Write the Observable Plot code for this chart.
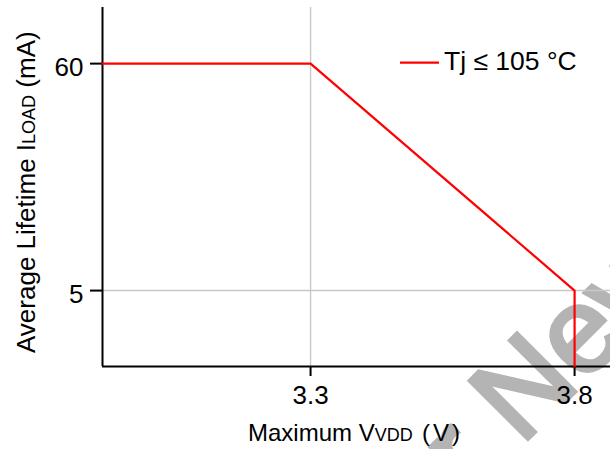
<!DOCTYPE html>
<html><head><meta charset="utf-8">
<script src="https://cdn.jsdelivr.net/npm/d3@7"></script>
<script src="https://cdn.jsdelivr.net/npm/@observablehq/plot@0.6"></script>
<style>html,body{margin:0;padding:0;background:#fff;overflow:hidden} svg{display:block}</style>
</head><body><div id="chart"></div>
<script>
// Data
const vdd = [2.906, 3.3, 3.8, 3.8];
const iload = [60, 60, 5, -13.4];
const xTicks = [3.3, 3.8];
const yTicks = [5, 60];
const xDomain = [2.906, 3.868];
const yDomain = [-13.4, 73.6];
const seriesName = "Tj ≤ 105 °C";
const watermarkA = "Not Recommended for";
const watermarkB = "New Designs";

const data = vdd.map((v, i) => ({vdd: v, iload: iload[i]}));
const font = "'Liberation Sans', Arial, Helvetica, sans-serif";

const plot = Plot.plot({
  width: 610, height: 449,
  marginTop: 7, marginBottom: 83, marginLeft: 102, marginRight: 0,
  style: {fontFamily: font, background: "#fff", overflow: "hidden", color: "#000"},
  x: {domain: xDomain},
  y: {domain: yDomain},
  marks: [
    Plot.ruleX([xTicks[0]], {stroke: "#c8c8c8", strokeWidth: 1.4}),
    Plot.ruleY([yTicks[0]], {stroke: "#c8c8c8", strokeWidth: 1.4}),
    Plot.axisX({ticks: xTicks, tickSize: 10, tickPadding: 9, fontSize: 26, label: null,
      tickFormat: d => d.toFixed(1), strokeWidth: 2}),
    Plot.axisY({ticks: yTicks, tickSize: 12, tickFormat: () => "", label: null, strokeWidth: 2}),
    Plot.axisY({ticks: yTicks, tickSize: 0, tickPadding: 19, dy: 4, fontSize: 26, label: null,
      tickFormat: d => String(d)}),
    Plot.ruleX([xDomain[0]], {stroke: "#000", strokeWidth: 2}),
    Plot.ruleY([yDomain[0]], {stroke: "#000", strokeWidth: 2}),
    Plot.line(data, {x: "vdd", y: "iload", stroke: "#ff0000", strokeWidth: 2.2, strokeLinejoin: "miter"})
  ]
});
document.getElementById("chart").appendChild(plot);

const svg = d3.select(plot);

// Watermark (underneath everything)
const wm = svg.insert("g", ":first-child")
  .attr("transform", "translate(521,446) rotate(-45)")
  .attr("font-family", font).attr("font-size", 120).attr("font-weight", "normal")
  .attr("fill", "#b4b4b4").attr("stroke", "#b4b4b4").attr("stroke-width", 4);
wm.append("text").attr("x", -33).attr("text-anchor", "end").text(watermarkA);
wm.append("text").attr("x", 0).attr("text-anchor", "start").text(watermarkB);
svg.insert("rect", ":first-child").attr("width", 610).attr("height", 449).attr("fill", "#fff");

// X axis label with subscript
const xl = svg.append("text")
  .attr("x", 248).attr("y", 441).attr("text-anchor", "start")
  .attr("font-family", font).attr("font-size", 24).attr("fill", "#000");
xl.append("tspan").text("Maximum V");
xl.append("tspan").attr("font-size", 18).text("VDD");
xl.append("tspan").attr("x", 422).attr("letter-spacing", 3).text("(V)");

// Y axis label with subscript
const yl = svg.append("text")
  .attr("transform", "translate(35,353) rotate(-90)").attr("text-anchor", "start")
  .attr("font-family", font).attr("font-size", 26).attr("fill", "#000");
yl.append("tspan").text("Average Lifetime I");
yl.append("tspan").attr("font-size", 18).text("LOAD");
yl.append("tspan").text(" (mA)");

// Legend
svg.append("line").attr("x1", 400).attr("x2", 439).attr("y1", 62.7).attr("y2", 62.7)
  .attr("stroke", "#ff0000").attr("stroke-width", 2.2);
svg.append("text").attr("x", 444).attr("y", 70).attr("text-anchor", "start")
  .attr("font-family", font).attr("font-size", 26.5).attr("fill", "#000").text(seriesName);
</script>
</body></html>
